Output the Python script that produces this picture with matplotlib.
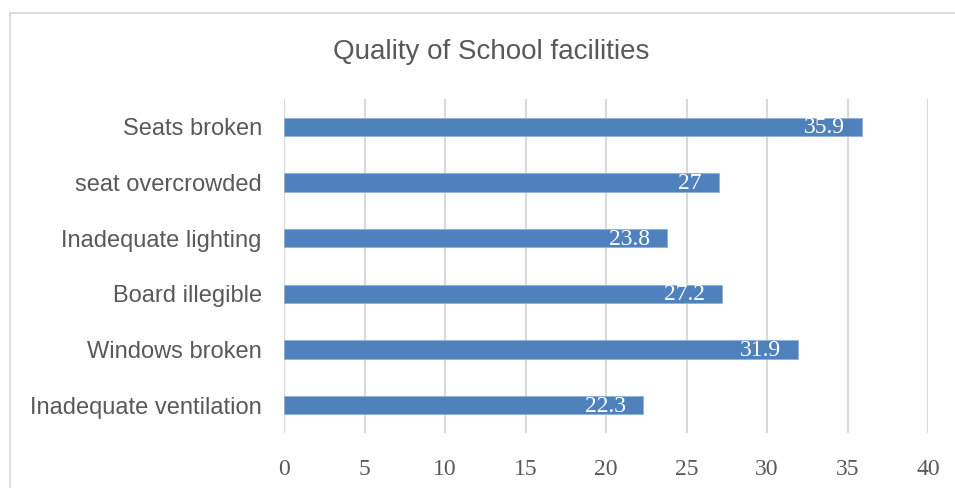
import matplotlib
matplotlib.use('Agg')
import matplotlib.pyplot as plt
from matplotlib.patches import Rectangle

# Survey data
categories = ['Seats broken', 'seat overcrowded', 'Inadequate lighting',
              'Board illegible', 'Windows broken', 'Inadequate ventilation']
values = [35.9, 27, 23.8, 27.2, 31.9, 22.3]
xticks = [0, 5, 10, 15, 20, 25, 30, 35, 40]

bar_color = '#4F81BD'
grid_color = '#D9D9D9'
text_color = '#595959'

fig = plt.figure(figsize=(9.55, 4.88), dpi=100)
ax = fig.add_axes([284/955, 1 - 433/488, 644/955, 334/488])

# Chart border (the original is cropped on the right and bottom)
fig.patches.append(Rectangle((10/955, -0.2), 1.2, 1 - 13/488 + 0.2,
                             transform=fig.transFigure, fill=False,
                             edgecolor=grid_color, linewidth=1.3))

ypos = list(range(len(categories)))
ax.barh(ypos, values, height=0.33, color=bar_color, edgecolor='#8FB0D9',
        linewidth=0.6, zorder=3)

# Value labels inside bar ends
for y, v in zip(ypos, values):
    ax.annotate(f'{v:g}', xy=(v, y), xytext=(-17, -1), textcoords='offset pixels',
                ha='right', va='center', color='white', fontsize=17,
                family='Liberation Serif', zorder=4)

ax.set_xlim(0, 40)
ax.set_ylim(-0.5, len(categories) - 0.5)
ax.invert_yaxis()
ax.set_xticks(xticks)
ax.set_xticklabels([str(t) for t in xticks], family='Liberation Serif',
                   fontsize=17, color=text_color)
ax.set_yticks(ypos)
ax.set_yticklabels(categories, family='Liberation Sans', fontsize=17,
                   color=text_color)
ax.tick_params(axis='x', length=0, pad=19)
ax.tick_params(axis='y', length=0, pad=16)
ax.grid(axis='x', color=grid_color, linewidth=1.5, zorder=0)
for s in ax.spines.values():
    s.set_visible(False)

fig.text(491/955, 1 - 52/488, 'Quality of School facilities', ha='center',
         va='center', fontsize=20, family='Liberation Sans', color=text_color)

fig.savefig('out.png', dpi=100)
